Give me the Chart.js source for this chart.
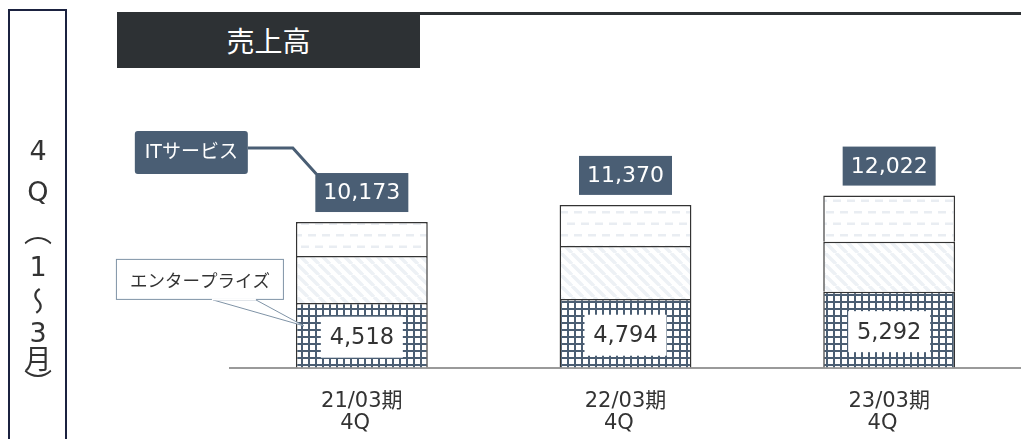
<!DOCTYPE html>
<html><head><meta charset="utf-8">
<script src="https://cdn.jsdelivr.net/npm/chart.js@4.4.0/dist/chart.umd.min.js"></script>
<style>
html,body{margin:0;padding:0;background:#fff;width:1021px;height:439px;overflow:hidden;}
#wrap{position:relative;width:1021px;height:439px;}
#c{position:absolute;left:0;top:0;}
#side{position:absolute;left:8px;top:9px;width:55px;height:450px;border:2px solid #1b2240;}
.vc{position:absolute;left:38px;transform:translate(-50%,-50%);font-family:"DejaVu Sans","Noto Sans CJK JP";font-size:27px;color:#333;line-height:1;white-space:nowrap;}
.vv{writing-mode:vertical-rl;font-family:"Noto Sans CJK JP";font-size:28px;}
#title{position:absolute;left:117px;top:12px;width:303px;height:56px;background:#2d3134;color:#fff;font-family:"Noto Sans CJK JP";font-size:28px;line-height:56px;text-align:center;}
#rule{position:absolute;left:420px;top:12px;width:601px;height:2.5px;background:#2d3134;}
</style></head>
<body><div id="wrap">
<div id="side"></div>
<div id="title">売上高</div>
<div id="rule"></div>
<canvas id="c" width="1021" height="439"></canvas>
</div>
<script>
// ---- data ----
const periods = ['21/03期', '22/03期', '23/03期'];
const quarter = '4Q';
const enterprise = [4518, 4794, 5292];
const segmentB = [3280, 3700, 3510];
const segmentC = [2375, 2876, 3220];
const totals = [10173, 11370, 12022];
const sideText = ['4', 'Q', '（', '1', '～', '3', '月', '）'];
const sideY = [150, 191, 231, 266, 301, 332, 359, 383];

// side vertical text
const wrap = document.getElementById('wrap');
sideText.forEach((ch, i) => {
  const s = document.createElement('span');
  s.className = 'vc' + ('（～）'.includes(ch) ? ' vv' : '');
  s.textContent = ch;
  s.style.top = sideY[i] + 'px';
  wrap.appendChild(s);
});

function makePattern(draw, w, h) {
  const c = document.createElement('canvas'); c.width = w; c.height = h;
  const g = c.getContext('2d'); draw(g, w, h);
  return g.createPattern(c, 'repeat');
}
const gridPat = makePattern((g, w, h) => {
  g.fillStyle = '#fff'; g.fillRect(0, 0, w, h);
  g.fillStyle = '#4b5e73'; g.fillRect(0, 0, w, 2); g.fillRect(0, 0, 2, h);
}, 7, 7);
const diagPat = makePattern((g, w, h) => {
  g.fillStyle = '#fff'; g.fillRect(0, 0, w, h);
  g.strokeStyle = '#edf1f5'; g.lineWidth = 3.5;
  for (let k = -1; k <= 1; k++) { g.beginPath(); g.moveTo(k * w, 0); g.lineTo(k * w + w, h); g.stroke(); }
}, 11, 11);
const dashPat = makePattern((g, w, h) => {
  g.fillStyle = '#fff'; g.fillRect(0, 0, w, h);
  g.fillStyle = '#e9edf2';
  g.fillRect(0, 4, 8, 2.5);
  g.fillRect(7, 15.5, 7, 2.5); g.fillRect(0, 15.5, 1, 2.5);
}, 14, 23);

const FONT = '"DejaVu Sans","Noto Sans CJK JP",sans-serif';
const CJK = '"Noto Sans CJK JP","DejaVu Sans",sans-serif';
const NAVY = '#4a5e74';

function rrect(ctx, x, y, w, h, r) {
  ctx.beginPath();
  ctx.moveTo(x + r, y); ctx.lineTo(x + w - r, y); ctx.quadraticCurveTo(x + w, y, x + w, y + r);
  ctx.lineTo(x + w, y + h - r); ctx.quadraticCurveTo(x + w, y + h, x + w - r, y + h);
  ctx.lineTo(x + r, y + h); ctx.quadraticCurveTo(x, y + h, x, y + h - r);
  ctx.lineTo(x, y + r); ctx.quadraticCurveTo(x, y, x + r, y); ctx.closePath();
}

const annot = {
  id: 'annot',
  afterDatasetsDraw(chart) {
    const ctx = chart.ctx;
    const m0 = chart.getDatasetMeta(0), m2 = chart.getDatasetMeta(2);
    ctx.save();
    ctx.textAlign = 'center'; ctx.textBaseline = 'middle';

    // enterprise callout (first bar)
    const e0 = m0.data[0];
    const left0 = e0.x - e0.width / 2;
    const eTop = e0.y;
    const bx = left0 - 180, by = eTop - 44, bw = 168, bh = 41;
    ctx.beginPath();
    ctx.moveTo(left0 - 83, by + bh); ctx.lineTo(left0 + 8, eTop + 23); ctx.lineTo(left0 - 40, by + bh);
    ctx.closePath();
    ctx.fillStyle = '#fff'; ctx.fill();
    ctx.strokeStyle = '#7f93a6'; ctx.lineWidth = 1; ctx.stroke();
    ctx.fillStyle = '#fff'; ctx.fillRect(bx, by, bw, bh);
    ctx.strokeRect(bx + 0.5, by + 0.5, bw - 1, bh - 1);
    ctx.fillStyle = '#fff'; ctx.fillRect(left0 - 84, by + bh - 1.5, 44, 2);
    ctx.fillStyle = '#333'; ctx.font = '17.5px ' + CJK;
    ctx.fillText('エンタープライズ', bx + bw / 2, by + bh / 2 + 1);

    // enterprise values
    m0.data.forEach((el, i) => {
      const cy = (el.y + el.base) / 2 + 2;
      ctx.fillStyle = '#fff'; ctx.fillRect(el.x - 41, cy - 20.5, 82, 41);
      ctx.fillStyle = '#333'; ctx.font = '22.5px ' + FONT;
      ctx.fillText(enterprise[i].toLocaleString('en-US'), el.x, cy + 1);
    });

    // totals
    let tb0 = null;
    m2.data.forEach((el, i) => {
      const w = 93, h = 39, x = el.x - w / 2, y = el.y - 10 - h;
      if (i === 0) tb0 = { x, y };
      ctx.fillStyle = NAVY; ctx.fillRect(x, y, w, h);
      ctx.fillStyle = '#fff'; ctx.font = '22px ' + FONT;
      ctx.fillText(totals[i].toLocaleString('en-US'), el.x, y + h / 2 + 1);
    });

    // ITサービス callout
    const ix = tb0.x - 180.5, iy = tb0.y - 42, iw = 113, ih = 43;
    ctx.strokeStyle = NAVY; ctx.lineWidth = 3; ctx.lineJoin = 'miter';
    ctx.beginPath();
    ctx.moveTo(ix + iw, iy + 17); ctx.lineTo(tb0.x - 22.5, iy + 17); ctx.lineTo(tb0.x + 1, tb0.y + 1);
    ctx.stroke();
    ctx.fillStyle = NAVY; rrect(ctx, ix, iy, iw, ih, 3); ctx.fill();
    ctx.fillStyle = '#fff'; ctx.font = '19px ' + FONT;
    ctx.fillText('ITサービス', ix + iw / 2, iy + ih / 2 + 1);
    ctx.restore();
  }
};

const common = { borderColor: '#333', borderWidth: 1.5, barPercentage: 0.5, categoryPercentage: 1.0 };
new Chart(document.getElementById('c'), {
  type: 'bar',
  data: {
    labels: periods.map(p => [p, quarter + '  ']),
    datasets: [
      Object.assign({ label: 'エンタープライズ', data: enterprise, backgroundColor: gridPat }, common),
      Object.assign({ label: 'セグメントB', data: segmentB, backgroundColor: diagPat }, common),
      Object.assign({ label: 'セグメントC', data: segmentC, backgroundColor: dashPat }, common)
    ]
  },
  options: {
    responsive: false, animation: false, devicePixelRatio: 1,
    layout: { padding: { left: 230, right: 0, top: 10, bottom: 0 } },
    plugins: { legend: { display: false }, tooltip: { enabled: false } },
    scales: {
      x: {
        stacked: true,
        grid: { display: false, drawTicks: false },
        border: { display: true, color: '#9a9a9a', width: 2 },
        ticks: { color: '#333', padding: 23.5, font: { family: FONT, size: 21, lineHeight: 22 / 21 }, maxRotation: 0, autoSkip: false },
        afterFit: s => { s.height = 71.5; }
      },
      y: { stacked: true, display: false, min: 0, max: 25000 }
    }
  },
  plugins: [annot]
});
</script>
</body></html>
